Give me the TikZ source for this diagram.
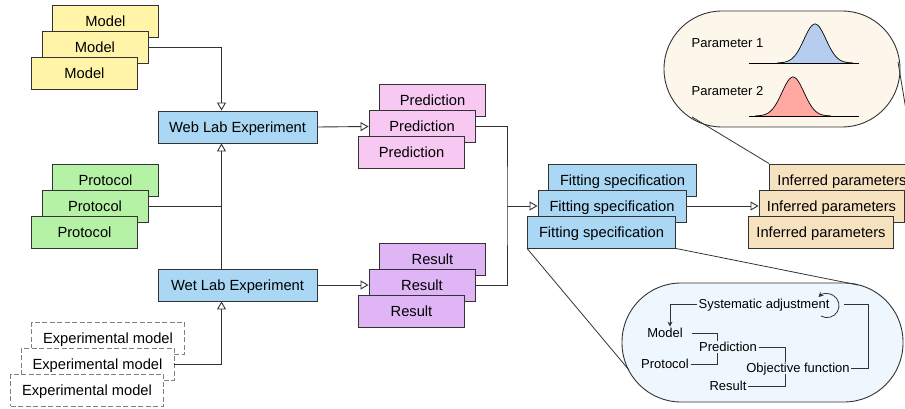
\documentclass[tikz,border=0pt]{standalone}
\usepackage{fontspec}
\setmainfont{Liberation Sans}
\usepackage{xcolor}
\usetikzlibrary{positioning,calc,arrows.meta}

\definecolor{linegray}{HTML}{333333}
\definecolor{dashgray}{HTML}{808080}
\definecolor{modelfill}{HTML}{FFF4A8}
\definecolor{protocolfill}{HTML}{B6F2A6}
\definecolor{labfill}{HTML}{A9D7F4}
\definecolor{predfill}{HTML}{F7C8F2}
\definecolor{resultfill}{HTML}{DFB5F6}
\definecolor{inferfill}{HTML}{F7E2C0}
\definecolor{creamfill}{HTML}{FDF6EB}
\definecolor{paleblue}{HTML}{EEF7FD}
\definecolor{gaussblue}{HTML}{B7CDEF}
\definecolor{gaussred}{HTML}{FFA9A2}

\tikzset{
	block/.style={draw=linegray, line width=0.9pt, inner sep=0pt,
			minimum height=32pt, text height=10.5pt, text depth=0pt,
			font=\fontsize{14.7}{17}\selectfont},
	modelbox/.style={block, fill=modelfill, minimum width=106pt},
	protocolbox/.style={block, fill=protocolfill, minimum width=106pt},
	expbox/.style={block, draw=dashgray, dash pattern=on 5pt off 2.5pt,
			fill=white, minimum width=153pt},
	labbox/.style={block, fill=labfill, minimum width=159pt},
	predbox/.style={block, fill=predfill, minimum width=106pt},
	resultbox/.style={block, fill=resultfill, minimum width=106pt},
	fitbox/.style={block, fill=labfill, minimum width=148pt},
	inferbox/.style={block, fill=inferfill, minimum width=145pt},
	bubble/.style={draw=linegray, line width=0.9pt},
	small/.style={inner sep=1.5pt, text height=9.3pt, text depth=0pt,
			font=\fontsize{13}{15}\selectfont},
	link/.style={draw=linegray, line width=0.9pt},
	openarrow/.style={link, -{Triangle[open, length=8pt, width=9pt]}},
	smallarrow/.style={link, line width=0.8pt, -{Stealth[length=5pt, width=5pt]}}
}

% three boxes stacked: name, centre, style, text
\newcommand{\boxstack}[4]{%
	\node[#3] (#1-back) at ($(#2)+(10.5,-26)$) {#4};
	\node[#3] (#1) at (#2) {#4};
	\node[#3] (#1-front) at ($(#2)+(-10.5,26)$) {#4};
}

\begin{document}
\begin{tikzpicture}[x=1pt, y=-1pt]
		\clip (0,0) rectangle (905,409);

		% Inputs
		\boxstack{model}{95,47.5}{modelbox}{Model}
		\boxstack{protocol}{95,206}{protocolbox}{Protocol}
		\boxstack{expmodel}{97.5,364}{expbox}{Experimental model}

		% Experiments
		\node[labbox] (weblab) at (237.5,127) {Web Lab Experiment};
		\node[labbox] (wetlab) at (237.5,285) {Wet Lab Experiment};
		\coordinate (spine) at ([xshift=-16]weblab.south);

		% Outputs
		\boxstack{prediction}{422,126.5}{predbox}{Prediction}
		\boxstack{result}{422,285}{resultbox}{Result}

		% Fitting
		\boxstack{fitting}{612,206}{fitbox}{Fitting specification}
		\boxstack{inferred}{831.5,206}{inferbox}{Inferred parameters}
		\coordinate (merge) at (507,206);

		% Arrows
		\draw[openarrow] (model.east) -| ([xshift=-16]weblab.north);
		\draw[link] (protocol.east) -- (protocol.east -| spine);
		\draw[openarrow, {Triangle[open, length=8pt, width=9pt]}-] (spine) -- ([xshift=-16]wetlab.north);
		\draw[openarrow] (expmodel.east) -| ([xshift=-16]wetlab.south);

		\draw[openarrow] (weblab.east) -- (prediction.west);
		\draw[openarrow] (wetlab.east) -- (result.west);
		\draw[link] (prediction.east) -| (merge) |- (result.east);
		\draw[openarrow] (merge) -- (fitting.west);
		\draw[openarrow] (fitting.east) -- (inferred.west);

		% Posterior bubble
		\node[bubble, fill=creamfill, rounded corners=57.9pt,
			minimum width=236pt, minimum height=116pt] (posterior) at (782,69) {};
		\coordinate (postleft) at (692,117);
		\coordinate (postright) at (898,62);
		\draw[link, line width=0.8pt] (inferred-back.north west) -- (postleft);
		\draw[link, line width=0.8pt] (inferred-back.north east) -- (postright);

		\node[small] (par1) at (727.5,43) {Parameter 1};
		\node[small] (par2) at (727.5,91) {Parameter 2};

		\filldraw[fill=gaussblue, draw=black, line width=0.7pt]
		plot[domain=-38:38, samples=50, smooth] ({815+\x}, {63-39*exp(-(\x*\x)/242)});
		\draw[black, line width=0.9pt] (749,63) -- (859,63);
		\filldraw[fill=gaussred, draw=black, line width=0.7pt]
		plot[domain=-38:38, samples=50, smooth] ({793+\x}, {116-39*exp(-(\x*\x)/242)});
		\draw[black, line width=0.9pt] (749,116) -- (859,116);

		% Fitting bubble
		\node[bubble, fill=paleblue, rounded corners=59pt,
			minimum width=281pt, minimum height=119pt] (fitbubble) at (762.5,342.5) {};
		\coordinate (fitleft) at (629,370);
		\coordinate (fittop) at (858,285);
		\draw[link, line width=0.8pt] (fitting-front.south west) -- (fitleft);
		\draw[link, line width=0.8pt] (fitting-front.south east) -- (fittop);

		\node[small] (adjust) at (764,304) {Systematic adjustment};
		\node[small] (cmodel) at (665,333) {Model};
		\node[small] (cpred) at (728,347) {Prediction};
		\node[small] (cprot) at (665,364) {Protocol};
		\node[small] (cobj) at (798,368) {Objective function};
		\node[small] (cres) at (728,386) {Result};

		\draw[smallarrow] (adjust.west) -| ([xshift=5]cmodel.north);
		\draw[link, line width=0.8pt] ([xshift=8]cmodel.east) -| ([xshift=-11]cpred.north);
		\draw[link, line width=0.8pt] (cprot.east) -| ([xshift=-11]cpred.south);
		\draw[link, line width=0.8pt] (cpred.east) -| ([xshift=-13]cobj.north);
		\draw[link, line width=0.8pt] (cres.east) -| ([xshift=-13]cobj.south);
		\draw[link, line width=0.8pt] (cobj.east) -- ++(17,0) |- ([xshift=13]adjust.east);
		\coordinate (loop) at (821,316);
		\draw[smallarrow] (loop) arc[start angle=-120, end angle=135, radius=12pt];
	\end{tikzpicture}
\end{document}
